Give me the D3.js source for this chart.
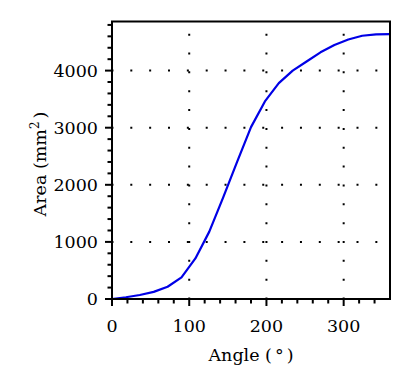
<!DOCTYPE html>
<html>
<head>
<meta charset="utf-8">
<script src="https://d3js.org/d3.v7.min.js"></script>
<style>
  body { margin: 0; background: #fff; }
  svg { display: block; }
  text { font-family: "DejaVu Serif", serif; fill: #000; }
</style>
</head>
<body>
<div id="chart"></div>
<script>
// angle in degrees and the area
var angles = [0, 18, 36, 54, 72, 90, 108, 126, 144, 162, 180, 198, 216, 234, 252, 270, 288, 306, 324, 342, 360];
var areas  = [0, 30, 70, 125, 215, 380, 710, 1180, 1780, 2400, 3010, 3460, 3780, 4000, 4160, 4320, 4450, 4545, 4610, 4635, 4640];

var xMajor = [0, 100, 200, 300];
var yMajor = [0, 1000, 2000, 3000, 4000];

var w = 412, h = 391;
var plotLeft = 112, plotRight = 390, plotTop = 21.5, plotBottom = 299;

var svg = d3.select("#chart").append("svg").attr("width", w).attr("height", h);

var xScale = d3.scaleLinear().domain([0, 360]).range([plotLeft, plotRight]);
var yScale = d3.scaleLinear().domain([0, 4860]).range([plotBottom, plotTop]);

// dotted grid
var dash = "2,16.85", off = -18.3;
svg.selectAll("line.vgrid")
   .data(xMajor.slice(1))
   .enter()
   .append("line")
   .attr("class", "vgrid")
   .attr("x1", function(d) {return xScale(d);})
   .attr("x2", function(d) {return xScale(d);})
   .attr("y1", plotBottom)
   .attr("y2", plotTop)
   .attr("stroke", "#000")
   .attr("stroke-width", 2)
   .attr("stroke-dasharray", dash)
   .attr("stroke-dashoffset", off);

svg.selectAll("line.hgrid")
   .data(yMajor.slice(1))
   .enter()
   .append("line")
   .attr("class", "hgrid")
   .attr("x1", plotLeft)
   .attr("x2", plotRight)
   .attr("y1", function(d) {return yScale(d);})
   .attr("y2", function(d) {return yScale(d);})
   .attr("stroke", "#000")
   .attr("stroke-width", 2)
   .attr("stroke-dasharray", dash)
   .attr("stroke-dashoffset", off);

// curve
var line = d3.line()
   .x(function(d, i) {return xScale(angles[i]);})
   .y(function(d) {return yScale(d);});

svg.append("path")
   .datum(areas)
   .attr("d", line)
   .attr("fill", "none")
   .attr("stroke", "#0000e6")
   .attr("stroke-width", 2.2)
   .attr("stroke-linejoin", "round");

// ticks: minor every 20 / 200, major every 100 / 1000
var xTicks = d3.range(0, 360, 20);
var yTicks = d3.range(0, 4860, 200);

svg.selectAll("line.xtick")
   .data(xTicks)
   .enter()
   .append("line")
   .attr("x1", function(d) {return xScale(d);})
   .attr("x2", function(d) {return xScale(d);})
   .attr("y1", plotBottom)
   .attr("y2", function(d) {return plotBottom + (d % 100 == 0 ? 7 : 4.5);})
   .attr("stroke", "#000")
   .attr("stroke-width", 2);

svg.selectAll("line.ytick")
   .data(yTicks)
   .enter()
   .append("line")
   .attr("y1", function(d) {return yScale(d);})
   .attr("y2", function(d) {return yScale(d);})
   .attr("x1", plotLeft)
   .attr("x2", function(d) {return plotLeft - (d % 1000 == 0 ? 7 : 4.5);})
   .attr("stroke", "#000")
   .attr("stroke-width", 2);

// frame
svg.append("rect")
   .attr("x", plotLeft)
   .attr("y", plotTop)
   .attr("width", plotRight - plotLeft)
   .attr("height", plotBottom - plotTop)
   .attr("fill", "none")
   .attr("stroke", "#000")
   .attr("stroke-width", 2);

// tick labels
svg.selectAll("text.xlab")
   .data(xMajor)
   .enter()
   .append("text")
   .text(function(d) {return d;})
   .attr("x", function(d) {return xScale(d);})
   .attr("y", 332)
   .attr("text-anchor", "middle")
   .attr("font-size", "17.5px");

svg.selectAll("text.ylab")
   .data(yMajor)
   .enter()
   .append("text")
   .text(function(d) {return d;})
   .attr("x", 98)
   .attr("y", function(d) {return yScale(d) + 6.3;})
   .attr("text-anchor", "end")
   .attr("font-size", "17.5px");

// axis titles
var xt = svg.append("text")
   .attr("x", (plotLeft + plotRight) / 2)
   .attr("y", 361)
   .attr("text-anchor", "middle")
   .attr("font-size", "17.5px");
xt.append("tspan").text("Angle (");
xt.append("tspan").attr("dx", 3).text("°");
xt.append("tspan").attr("dx", 3).text(")");

var yt = svg.append("text")
   .attr("transform", "translate(46,164) rotate(-90)")
   .attr("text-anchor", "middle")
   .attr("font-size", "17.5px");
yt.append("tspan").text("Area (mm");
yt.append("tspan").attr("dy", -7).attr("font-size", "12px").text("2");
yt.append("tspan").attr("dy", 7).attr("dx", 3).text(")");
</script>
</body>
</html>
